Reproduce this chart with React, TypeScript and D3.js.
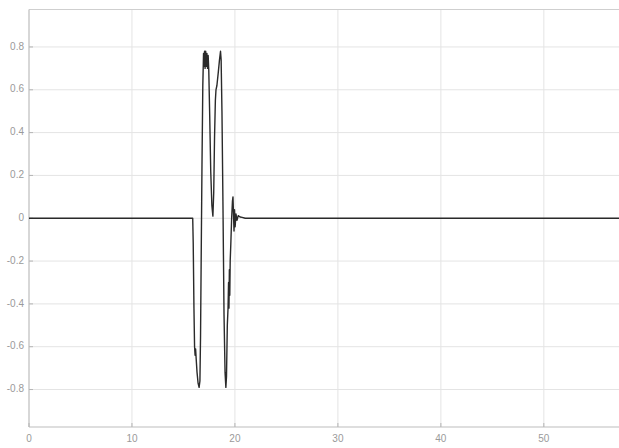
import { useMemo } from "react";
import * as d3 from "d3";

const WIDTH = 619;
const HEIGHT = 448;
const MARGIN = { top: 9.5, right: 0, bottom: 21, left: 29 };

// signal trace (time, amplitude)
const timeValues = [
  0, 15.9, 15.95, 16.02, 16.08, 16.13, 16.18, 16.24, 16.32, 16.42, 16.52, 16.6,
  16.66, 16.72, 16.8, 16.88, 16.95, 17.0, 17.05, 17.1, 17.16, 17.22, 17.28, 17.34,
  17.4, 17.46, 17.55, 17.65, 17.76, 17.86, 17.94, 18.02, 18.1, 18.16, 18.25, 18.38,
  18.5, 18.6, 18.66, 18.74, 18.84, 18.94, 19.04, 19.12, 19.18, 19.26, 19.33, 19.38,
  19.42, 19.46, 19.5, 19.54, 19.6, 19.68, 19.76, 19.81, 19.86, 19.91, 19.96, 20.02,
  20.1, 20.2, 20.32, 20.5, 20.7, 21.0, 57.3,
];
const amplitudeValues = [
  0, 0, -0.12, -0.42, -0.6, -0.64, -0.61, -0.66, -0.72, -0.77, -0.79, -0.76,
  -0.55, -0.2, 0.25, 0.62, 0.77, 0.71, 0.78, 0.7, 0.78, 0.71, 0.77, 0.7,
  0.76, 0.69, 0.48, 0.22, 0.06, 0.01, 0.12, 0.38, 0.55, 0.6, 0.62, 0.68,
  0.74, 0.78, 0.74, 0.5, 0.05, -0.45, -0.72, -0.79, -0.74, -0.5, -0.42, -0.3,
  -0.42, -0.24, -0.36, -0.2, -0.12, 0.0, 0.08, 0.1, 0.02, -0.06, 0.04, -0.04,
  0.02, -0.01, 0.012, 0.006, 0.004, 0, 0,
];

const xTicks = [0, 10, 20, 30, 40, 50];
const yTicks = [0.8, 0.6, 0.4, 0.2, 0, -0.2, -0.4, -0.6, -0.8];

export default function App() {
  const data = useMemo(
    () => timeValues.map((t, i) => ({ t, v: amplitudeValues[i] })),
    []
  );

  const xScale = d3
    .scaleLinear()
    .domain([0, 57.3])
    .range([MARGIN.left, WIDTH - MARGIN.right]);
  const yScale = d3
    .scaleLinear()
    .domain([-0.975, 0.975])
    .range([HEIGHT - MARGIN.bottom, MARGIN.top]);

  const line = d3
    .line<{ t: number; v: number }>()
    .x((d) => xScale(d.t))
    .y((d) => yScale(d.v));

  const left = MARGIN.left;
  const right = WIDTH - MARGIN.right;
  const top = MARGIN.top;
  const bottom = HEIGHT - MARGIN.bottom;

  return (
    <svg
      width={WIDTH}
      height={HEIGHT}
      style={{ position: "fixed", left: 0, top: 0, background: "#fff" }}
      fontFamily="Liberation Sans, Arial, sans-serif"
    >
      {/* grid */}
      {xTicks.map((t) => (
        <line
          key={"gx" + t}
          x1={xScale(t)}
          x2={xScale(t)}
          y1={top}
          y2={bottom}
          stroke="#e4e4e4"
          strokeWidth={1}
        />
      ))}
      {yTicks.map((t) => (
        <line
          key={"gy" + t}
          x1={left}
          x2={right}
          y1={yScale(t)}
          y2={yScale(t)}
          stroke="#e4e4e4"
          strokeWidth={1}
        />
      ))}

      {/* box */}
      <line x1={left} x2={right} y1={top} y2={top} stroke="#cfcfcf" />
      <line x1={left} x2={right} y1={bottom} y2={bottom} stroke="#bdbdbd" />
      <line x1={left} x2={left} y1={top} y2={bottom} stroke="#bdbdbd" />

      {/* ticks + labels */}
      {xTicks.map((t) => (
        <g key={"xt" + t}>
          <line
            x1={xScale(t)}
            x2={xScale(t)}
            y1={bottom}
            y2={bottom - 4}
            stroke="#b5b5b5"
          />
          <text
            x={xScale(t)}
            y={bottom + 15}
            textAnchor="middle"
            fontSize={10}
            fill="#9a9a9a"
          >
            {t}
          </text>
        </g>
      ))}
      {yTicks.map((t) => (
        <g key={"yt" + t}>
          <line
            x1={left}
            x2={left + 4}
            y1={yScale(t)}
            y2={yScale(t)}
            stroke="#b5b5b5"
          />
          <text
            x={left - 5}
            y={yScale(t)}
            textAnchor="end"
            dominantBaseline="middle"
            fontSize={10}
            fill="#9a9a9a"
          >
            {t}
          </text>
        </g>
      ))}

      {/* signal */}
      <path
        d={line(data) ?? ""}
        fill="none"
        stroke="#2a2a2a"
        strokeWidth={1.4}
        strokeLinejoin="round"
      />
    </svg>
  );
}
